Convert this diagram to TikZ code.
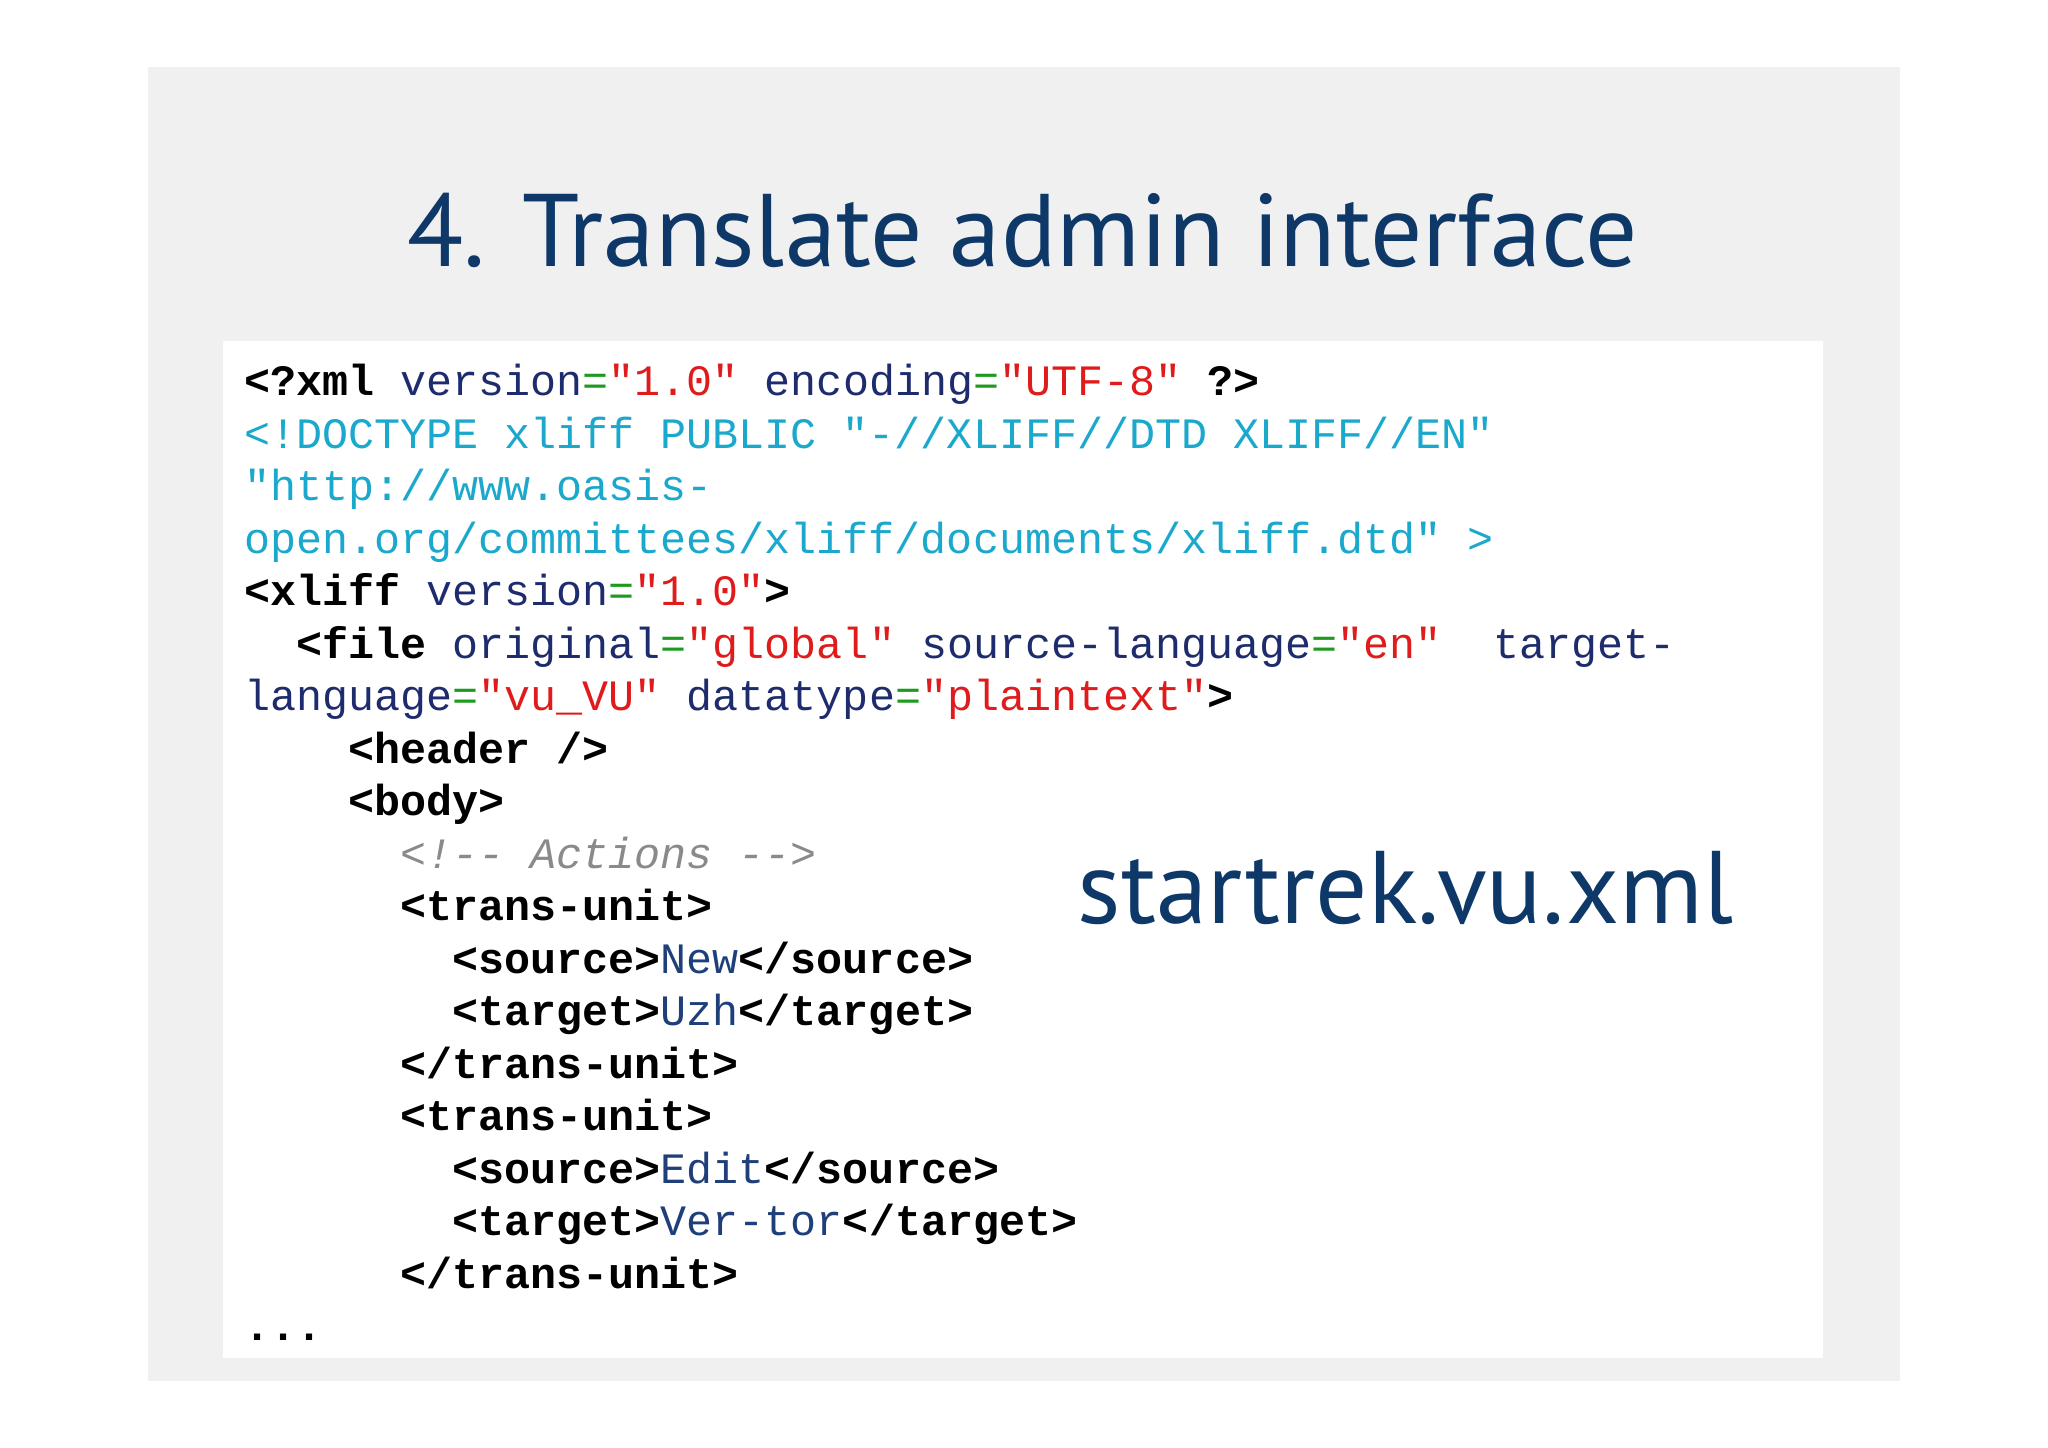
\documentclass[tikz,border=0pt]{standalone}
\usepackage{fontspec}
\setmainfont{PT Sans}
\setmonofont{Liberation Mono}
\definecolor{ttl}{HTML}{0D3868}
\definecolor{atc}{HTML}{1E2C6E}
\definecolor{eqc}{HTML}{1E9A1E}
\definecolor{vlc}{HTML}{E01B1B}
\definecolor{dtc}{HTML}{1AA8CC}
\definecolor{cmc}{HTML}{8A8A8A}
\definecolor{txc}{HTML}{1F3F7A}
\newcommand{\tg}[1]{{\bfseries\color{black}#1}}
\newcommand{\at}[1]{{\color{atc}#1}}
\newcommand{\eqq}{{\color{eqc}=}}
\newcommand{\vl}[1]{{\color{vlc}#1}}
\newcommand{\dt}[1]{{\color{dtc}#1}}
\newcommand{\cm}[1]{{\itshape\color{cmc}#1}}
\newcommand{\tx}[1]{{\color{txc}#1}}
\begin{document}
\begin{tikzpicture}[x=1pt,y=-1pt,
  code/.style={anchor=base west,inner sep=0pt,font=\ttfamily\fontsize{33.2}{40}\selectfont}]
\useasboundingbox (0,0) rectangle (1568,1108);
\fill[white] (0,0) rectangle (1568,1108);
\fill[black!6] (113,51) rectangle (1455,1057);
\fill[white] (171,261) rectangle (1396,1040);
\node[anchor=base,inner sep=0pt,text=ttl,font=\fontsize{79}{84}\selectfont] (title) at (783,204) {4. Translate admin interface};
\node[anchor=base west,inner sep=0pt,text=ttl,font=\fontsize{79}{84}\selectfont] (fname) at (825,707) {startrek.vu.xml};
\def\ch{19.92}
\def\ls{40.2}
\node[code] (l1) at (187,303) {\tg{<?xml} \at{version}\eqq\vl{"1.0"} \at{encoding}\eqq\vl{"UTF-8"} \tg{?>}};
\node[code] (l2) at (187,303+\ls) {\dt{<!DOCTYPE xliff PUBLIC "-//XLIFF//DTD XLIFF//EN"}};
\node[code] (l3) at (187,303+2*\ls) {\dt{"http://www.oasis-}};
\node[code] (l4) at (187,303+3*\ls) {\dt{open.org/committees/xliff/documents/xliff.dtd" >}};
\node[code] (l5) at (187,303+4*\ls) {\tg{<xliff} \at{version}\eqq\vl{"1.0"}\tg{>}};
\node[code] (l6) at (187+2*\ch,303+5*\ls) {\tg{<file} \at{original}\eqq\vl{"global"} \at{source-language}\eqq\vl{"en"}\ \ \at{target-}};
\node[code] (l7) at (187,303+6*\ls) {\at{language}\eqq\vl{"vu\_VU"} \at{datatype}\eqq\vl{"plaintext"}\tg{>}};
\node[code] (l8) at (187+4*\ch,303+7*\ls) {\tg{<header />}};
\node[code] (l9) at (187+4*\ch,303+8*\ls) {\tg{<body>}};
\node[code] (l10) at (187+6*\ch,303+9*\ls) {\cm{<!-- Actions -->}};
\node[code] (l11) at (187+6*\ch,303+10*\ls) {\tg{<trans-unit>}};
\node[code] (l12) at (187+8*\ch,303+11*\ls) {\tg{<source>}\tx{New}\tg{</source>}};
\node[code] (l13) at (187+8*\ch,303+12*\ls) {\tg{<target>}\tx{Uzh}\tg{</target>}};
\node[code] (l14) at (187+6*\ch,303+13*\ls) {\tg{</trans-unit>}};
\node[code] (l15) at (187+6*\ch,303+14*\ls) {\tg{<trans-unit>}};
\node[code] (l16) at (187+8*\ch,303+15*\ls) {\tg{<source>}\tx{Edit}\tg{</source>}};
\node[code] (l17) at (187+8*\ch,303+16*\ls) {\tg{<target>}\tx{Ver-tor}\tg{</target>}};
\node[code] (l18) at (187+6*\ch,303+17*\ls) {\tg{</trans-unit>}};
\node[code] (l19) at (187,303+18*\ls) {\tg{...}};
\end{tikzpicture}
\end{document}
